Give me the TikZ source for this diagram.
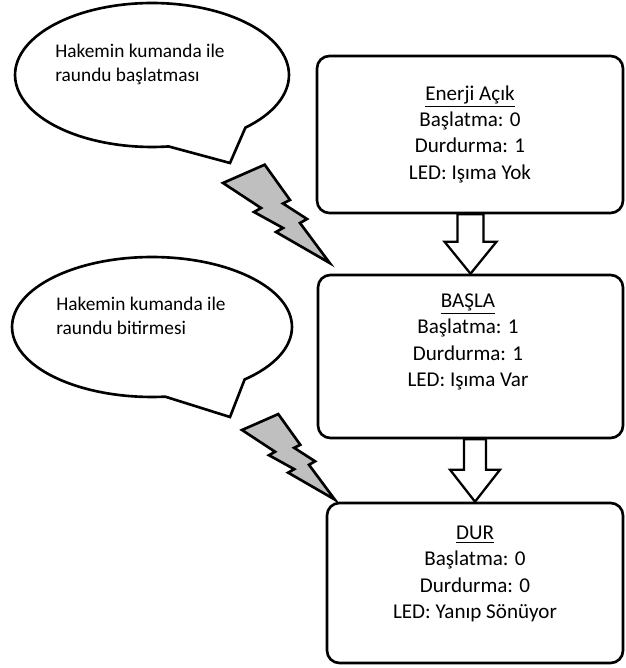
\documentclass[tikz,border=0pt]{standalone}
\usepackage{fontspec}
\setmainfont{Carlito}
\usetikzlibrary{calc, shapes.callouts}

\tikzset{
  state/.style={draw, line width=1.5pt, rounded corners=7pt, fill=white, inner sep=0pt},
  statetext/.style={align=center, inner sep=0pt, font=\fontsize{12}{15}\selectfont},
  bubble/.style={ellipse callout, draw, line width=1.5pt, fill=white, inner sep=0pt, callout pointer arc=36},
  bubbletext/.style={align=left, anchor=west, inner sep=0pt, font=\fontsize{11}{14}\selectfont},
  hollow/.style={draw, line width=1.3pt, fill=white, line join=miter},
  bolt/.pic={
    \draw[line width=1.5pt, fill=gray!50, line join=miter]
      (0,0) -- (41.7,-18.3) -- (67,17) -- (60,20.5) -- (84,36) -- (77,40)
      -- (106.7,80) -- (53,49) -- (60,45) -- (31,29) -- (38,25) -- cycle;
  }
}

\begin{document}
\begin{tikzpicture}[x=0.02cm, y=-0.02cm]
    \useasboundingbox (0,0) rectangle (625,668);

    % States
    \node[state, minimum width=6.12cm, minimum height=3.14cm] (on) at (470,134.5) {};
    \node[state, minimum width=6.1cm, minimum height=3.26cm] (start) at (470.5,356.5) {};
    \node[state, minimum width=5.92cm, minimum height=3.2cm] (stop) at (475,583) {};

    \node[statetext] (ontext) at (470,134) {\underline{Enerji Açık}\\Başlatma: 0\\Durdurma: 1\\LED: Işıma Yok};
    \node[statetext] (starttext) at (468,342) {\underline{BAŞLA}\\Başlatma: 1\\Durdurma: 1\\LED: Işıma Var};
    \node[statetext] (stoptext) at (475,574) {\underline{DUR}\\Başlatma: 0\\Durdurma: 0\\LED: Yanıp Sönüyor};

    % Arrows
    \draw[hollow] (start.north) -- ++(-26,-32) -- ++(13,0) |- (on.south)
      -| ($(start.north)+(13,-32)$) -- ++(13,0) -- cycle;
    \draw[hollow] (stop.north) -- ++(-25,-32) -- ++(14,0) |- (start.south)
      -| ($(stop.north)+(11,-32)$) -- ++(14,0) -- cycle;

    % Referee commands
    \node[bubble, minimum width=5.48cm, minimum height=2.88cm,
      callout absolute pointer={(230,163)}] (cmdstart) at (152,75) {};
    \node[bubbletext] (cmdstarttext) at (55,64.5) {Hakemin kumanda ile\\raundu başlatması};

    \node[bubble, minimum width=5.6cm, minimum height=2.8cm,
      callout absolute pointer={(230,417)}] (cmdstop) at (152,327) {};
    \node[bubbletext] (cmdstoptext) at (56,316) {Hakemin kumanda ile\\raundu bitirmesi};

    % Lightning
    \pic at (223,183) {bolt};
    \pic[scale=0.87] at (242,430) {bolt};
\end{tikzpicture}
\end{document}
